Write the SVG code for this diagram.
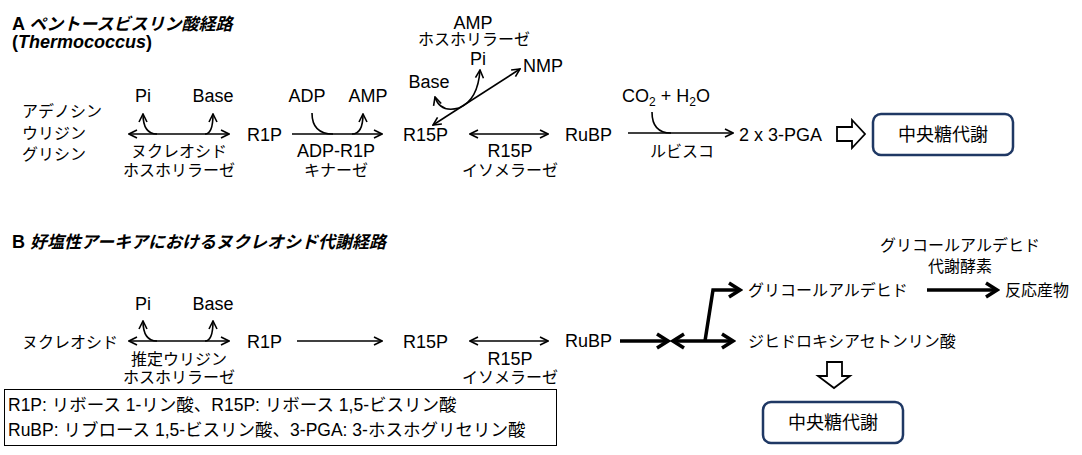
<svg xmlns="http://www.w3.org/2000/svg" width="1082" height="455" viewBox="0 0 1082 455">
<style>
.t{font-family:"Liberation Sans","Noto Sans CJK JP",sans-serif;font-size:18px;fill:#000}
.j{font-family:"Noto Sans CJK JP","Liberation Sans",sans-serif;font-size:16px;fill:#000}
.m{text-anchor:middle}
.ttl{font-family:"Liberation Sans","Noto Sans CJK JP",sans-serif;font-size:18px;font-weight:bold;fill:#000}
.ttlj{font-family:"Noto Sans CJK JP",sans-serif;font-size:17px;font-weight:bold;font-style:italic}
.lg{font-family:"Liberation Sans","Noto Sans CJK JP",sans-serif;font-size:17.5px;fill:#000}
.ln{fill:none;stroke:#000;stroke-width:1.6}
.thk{fill:none;stroke:#000;stroke-width:3.5}
.box{fill:#fff;stroke:#1f3864;stroke-width:2.5}
.hol{fill:#fff;stroke:#000;stroke-width:1.8;stroke-linejoin:miter}
</style>
<defs>
<marker id="a" viewBox="0 0 10 10" refX="9" refY="5" markerWidth="10" markerHeight="10" markerUnits="userSpaceOnUse" orient="auto-start-reverse">
<path d="M1,1 L9,5 L1,9" fill="none" stroke="#000" stroke-width="1.6"/>
</marker>
<marker id="b" viewBox="0 0 16 18" refX="13" refY="9" markerWidth="16" markerHeight="18" markerUnits="userSpaceOnUse" orient="auto-start-reverse">
<path d="M2,2 L13,9 L2,16" fill="none" stroke="#000" stroke-width="3.5"/>
</marker>
</defs>

<g id="titleA">
<text class="ttl" x="12" y="30">A <tspan class="ttlj">ペントースビスリン酸経路</tspan></text>
<text class="ttl" x="12" y="48">(<tspan font-style="italic">Thermococcus</tspan>)</text>
</g>

<g id="connectorsA">
<line class="ln" x1="129" y1="134" x2="229" y2="134" marker-start="url(#a)" marker-end="url(#a)"/>
<path class="ln" d="M157,134 Q143,134 143,114" marker-end="url(#a)"/>
<path class="ln" d="M205,134 Q213,134 213,114" marker-end="url(#a)"/>
<line class="ln" x1="292" y1="134" x2="382" y2="134" marker-end="url(#a)"/>
<path class="ln" d="M312,113 Q312,134 333,134"/>
<path class="ln" d="M352,134 Q363,134 363,114" marker-end="url(#a)"/>
<line class="ln" x1="433" y1="125" x2="520" y2="69" marker-start="url(#a)" marker-end="url(#a)"/>
<path class="ln" d="M459,108 Q440,113 435,97" marker-end="url(#a)"/>
<path class="ln" d="M459,108 Q478,100 480,70" marker-end="url(#a)"/>
<line class="ln" x1="470" y1="134" x2="548" y2="134" marker-start="url(#a)" marker-end="url(#a)"/>
<line class="ln" x1="628" y1="133" x2="733" y2="133" marker-end="url(#a)"/>
<path class="ln" d="M652,112 Q652,133 671,133"/>
<polygon class="hol" points="837,127 852,127 852,120 865,134 852,148 852,141 837,141"/>
</g>

<g id="nucleosidesA">
<text class="j" x="22" y="117">アデノシン</text>
<text class="j" x="22" y="139">ウリジン</text>
<text class="j" x="22" y="160">グリシン</text>
</g>
<g id="npA">
<text class="t m" x="143" y="102">Pi</text>
<text class="t m" x="213" y="102">Base</text>
<text class="j m" x="179" y="157">ヌクレオシド</text>
<text class="j m" x="179" y="176">ホスホリラーゼ</text>
</g>
<g id="r1pA"><text class="t" x="247" y="141">R1P</text></g>
<g id="kinaseA">
<text class="t m" x="307" y="102">ADP</text>
<text class="t m" x="368" y="102">AMP</text>
<text class="t m" x="336" y="157">ADP-R1P</text>
<text class="j m" x="336" y="176">キナーゼ</text>
</g>
<g id="r15pA"><text class="t" x="403" y="141">R15P</text></g>
<g id="ampA">
<text class="t m" x="473" y="29">AMP</text>
<text class="j m" x="474" y="45">ホスホリラーゼ</text>
<text class="t m" x="478" y="65">Pi</text>
<text class="t" x="523" y="72">NMP</text>
<text class="t m" x="429" y="88">Base</text>
</g>
<g id="isoA">
<text class="t m" x="510" y="157">R15P</text>
<text class="j m" x="510" y="176">イソメラーゼ</text>
</g>
<g id="rubpA"><text class="t" x="565" y="141">RuBP</text></g>
<g id="rubiscoA">
<text class="t" x="622" y="102">CO<tspan font-size="12" dy="4">2</tspan><tspan dy="-4"> + H</tspan><tspan font-size="12" dy="4">2</tspan><tspan dy="-4">O</tspan></text>
<text class="j m" x="682" y="157">ルビスコ</text>
</g>
<g id="pgaA"><text class="t" x="739" y="141">2 x 3-PGA</text></g>
<g id="centralA">
<rect class="box" x="873" y="114" width="140" height="41" rx="8"/>
<text class="t m" x="943" y="141">中央糖代謝</text>
</g>

<g id="titleB">
<text class="ttl" x="12" y="248">B <tspan class="ttlj">好塩性アーキアにおけるヌクレオシド代謝経路</tspan></text>
</g>

<g id="connectorsB">
<line class="ln" x1="129" y1="341" x2="229" y2="341" marker-start="url(#a)" marker-end="url(#a)"/>
<path class="ln" d="M157,341 Q143,341 143,321" marker-end="url(#a)"/>
<path class="ln" d="M205,341 Q213,341 213,321" marker-end="url(#a)"/>
<line class="ln" x1="297" y1="341" x2="382" y2="341" marker-end="url(#a)"/>
<line class="ln" x1="470" y1="341" x2="548" y2="341" marker-start="url(#a)" marker-end="url(#a)"/>
<line class="thk" x1="620" y1="341" x2="668" y2="341" marker-end="url(#b)"/>
<line class="thk" x1="673" y1="341" x2="733" y2="341" marker-start="url(#b)" marker-end="url(#b)"/>
<polyline class="thk" points="705,341 713,290 740,290" marker-end="url(#b)"/>
<line class="thk" x1="927" y1="290" x2="997" y2="290" marker-end="url(#b)"/>
<polygon class="hol" points="827,362 842,362 842,376 850,376 834,388 818,376 827,376"/>
</g>

<g id="nucB"><text class="j" x="22" y="348">ヌクレオシド</text></g>
<g id="npB">
<text class="t m" x="143" y="310">Pi</text>
<text class="t m" x="213" y="310">Base</text>
<text class="j m" x="179" y="365">推定ウリジン</text>
<text class="j m" x="179" y="383">ホスホリラーゼ</text>
</g>
<g id="r1pB"><text class="t" x="247" y="348">R1P</text></g>
<g id="r15pB"><text class="t" x="403" y="348">R15P</text></g>
<g id="isoB">
<text class="t m" x="510" y="365">R15P</text>
<text class="j m" x="510" y="383">イソメラーゼ</text>
</g>
<g id="rubpB"><text class="t" x="565" y="347">RuBP</text></g>
<g id="glyB">
<text class="j" x="748" y="296">グリコールアルデヒド</text>
<text class="j m" x="960" y="251">グリコールアルデヒド</text>
<text class="j m" x="960" y="272">代謝酵素</text>
</g>
<g id="productB"><text class="j" x="1005" y="296">反応産物</text></g>
<g id="dhapB"><text class="j" x="748" y="347">ジヒドロキシアセトンリン酸</text></g>
<g id="centralB">
<rect class="box" x="763" y="402" width="140" height="41" rx="8"/>
<text class="t m" x="833" y="429">中央糖代謝</text>
</g>

<g id="legend">
<rect x="4.5" y="389.5" width="552" height="56" fill="#fff" stroke="#000" stroke-width="1"/>
<text class="lg" x="8" y="411">R1P: リボース 1-リン酸、R15P: リボース 1,5-ビスリン酸</text>
<text class="lg" x="8" y="436">RuBP: リブロース 1,5-ビスリン酸、3-PGA: 3-ホスホグリセリン酸</text>
</g>
</svg>
